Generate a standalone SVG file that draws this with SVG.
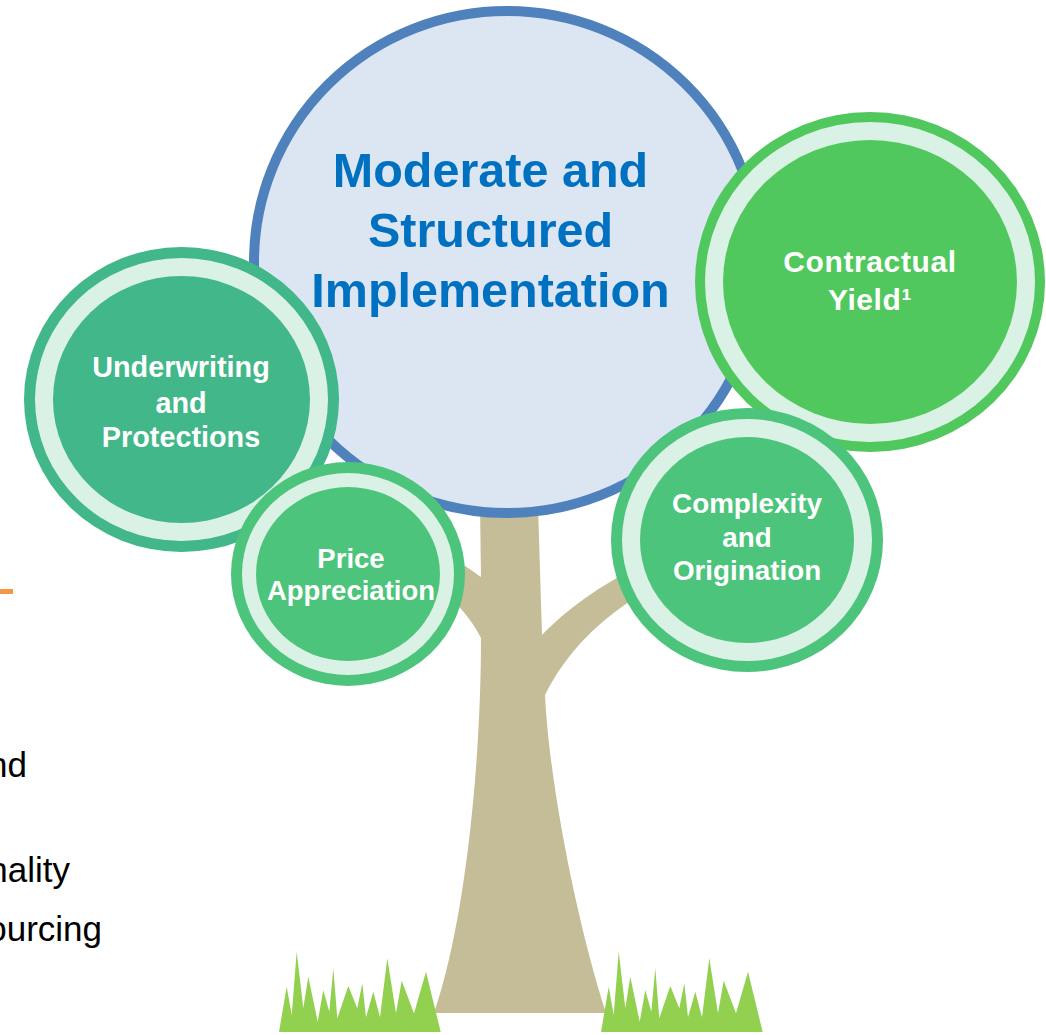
<svg xmlns="http://www.w3.org/2000/svg" width="1046" height="1035" viewBox="0 0 1046 1035">
<style>
.lbl{font-family:"Liberation Sans",Arial,sans-serif;font-weight:bold;fill:#FFFFFF;text-anchor:middle}
.main{font-family:"Liberation Sans",Arial,sans-serif;font-weight:bold;fill:#0070C0;text-anchor:middle;font-size:48.5px}
.side{font-family:"Liberation Sans",Arial,sans-serif;fill:#000000;text-anchor:end;font-size:35px}
.ring{fill:#DAF2E5}
.grass{fill:#92D050}
.trunk{fill:#C4BD97}
</style>
<rect x="0" y="0" width="1046" height="1035" fill="#FFFFFF"/>
<rect x="0" y="589" width="13" height="5" fill="#F79646"/>
<text class="side" x="27" y="777">nd</text>
<text class="side" x="70" y="882">nality</text>
<text class="side" x="102" y="941">ourcing</text>

<g id="connectors">
<path class="trunk" d="M480,505 L481,577 L445,552 L440,588 C458,604 472,620 481,638 C481,760 466,920 434,1013 L606,1013 C576,920 549,780 545,695 C565,655 598,618 652,588 L640,566 C600,585 566,610 542,635 L538,505 Z"/>
</g>

<g id="node-main">
<ellipse cx="507" cy="262" rx="253" ry="251" fill="#DCE6F2" stroke="#4F81BD" stroke-width="10"/>
<text class="main" x="490.5" y="187">Moderate and</text>
<text class="main" x="490.5" y="247">Structured</text>
<text class="main" x="490.5" y="307">Implementation</text>
</g>

<g id="node-contractual">
<ellipse cx="870" cy="282" rx="175" ry="170" fill="#51C85D"/>
<ellipse class="ring" cx="870" cy="282" rx="165" ry="160"/>
<ellipse cx="870" cy="282" rx="147" ry="142" fill="#51C85D"/>
<text class="lbl" x="870" y="272" font-size="30" letter-spacing="0.6">Contractual</text>
<text class="lbl" x="870" y="310" font-size="30" letter-spacing="0.6">Yield¹</text>
</g>

<g id="node-underwriting">
<ellipse cx="181.5" cy="399.5" rx="157.5" ry="152.5" fill="#41B78A"/>
<ellipse class="ring" cx="181.5" cy="399.5" rx="146.5" ry="141.5"/>
<ellipse cx="181.5" cy="399.5" rx="128.5" ry="123.5" fill="#41B78A"/>
<text class="lbl" x="181" y="377" font-size="28.8">Underwriting</text>
<text class="lbl" x="181" y="413" font-size="28.8">and</text>
<text class="lbl" x="181" y="447" font-size="28.8">Protections</text>
</g>

<g id="node-price">
<ellipse cx="348" cy="574" rx="117" ry="112" fill="#4CC47B"/>
<ellipse class="ring" cx="348" cy="574" rx="106" ry="101"/>
<ellipse cx="348" cy="574" rx="92" ry="87" fill="#4CC47B"/>
<text class="lbl" x="351" y="568" font-size="27.5">Price</text>
<text class="lbl" x="351" y="600" font-size="27.5">Appreciation</text>
</g>

<g id="node-complexity">
<ellipse cx="747" cy="540" rx="136" ry="132" fill="#4CC47B"/>
<ellipse class="ring" cx="747" cy="540" rx="125" ry="121"/>
<ellipse cx="747" cy="540" rx="107" ry="103" fill="#4CC47B"/>
<text class="lbl" x="747" y="513" font-size="27.8">Complexity</text>
<text class="lbl" x="747" y="547" font-size="27.8">and</text>
<text class="lbl" x="747" y="580" font-size="27.8">Origination</text>
</g>

<g id="grass">
<polygon id="grass-left" class="grass" points="279,1032 286.7,986.7 291.7,1015 296.7,951.7 303.3,1008 308.3,976.7 317.7,1021.7 323.3,990 329.3,1011.7 333.3,968.3 337.3,1018.3 348.3,986 357.3,1008.3 362.3,983.3 366,1017.3 373.3,991.7 380,1017.3 387.3,958.3 396,1013.3 401.7,980.7 414,1013.3 426,971.7 440.7,1032"/>
<use href="#grass-left" transform="translate(322,0)"/>
</g>
</svg>
